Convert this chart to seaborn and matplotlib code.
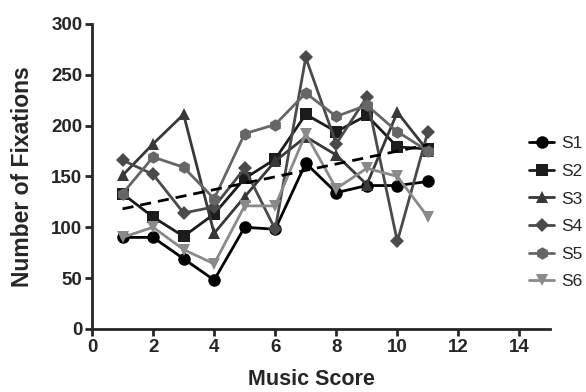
import numpy as np
import pandas as pd
import matplotlib
matplotlib.use("Agg")
import matplotlib.pyplot as plt
import seaborn as sns

scores = [1, 2, 3, 4, 5, 6, 7, 8, 9, 10, 11]
s1 = [90, 90, 69, 48, 100, 98, 163, 134, 141, 141, 145]
s2 = [133, 110, 91, 113, 148, 167, 211, 194, 210, 179, 177]
s3 = [151, 182, 211, 94, 130, 165, 189, 171, 142, 213, 175]
s4 = [166, 152, 114, 120, 158, 98, 267, 182, 228, 86, 194]
s5 = [133, 169, 159, 128, 192, 201, 232, 209, 220, 194, 175]
s6 = [90, 100, 78, 64, 121, 121, 192, 138, 158, 150, 110]
subjects = ["S1", "S2", "S3", "S4", "S5", "S6"]
series = [s1, s2, s3, s4, s5, s6]
colors = ["#000000", "#1c1c1c", "#383838", "#4a4a4a", "#666666", "#8a8a8a"]
markers = ["o", "s", "^", "D", "h", "v"]
msizes = [9, 9, 9, 7, 9, 9]

df = pd.DataFrame({
    "Music Score": np.tile(scores, len(subjects)),
    "Number of Fixations": np.concatenate(series),
    "Subject": np.repeat(subjects, len(scores)),
})

sns.set_style("ticks")
plt.rcParams["font.family"] = ["Liberation Sans", "DejaVu Sans"]

fig = plt.figure(figsize=(5.86, 3.92), dpi=100)
ax = fig.add_axes([0.157, 0.161, 0.7816, 0.778])

for subj, col, mk, ms in zip(subjects, colors, markers, msizes):
    sub = df[df["Subject"] == subj]
    sns.lineplot(data=sub, x="Music Score", y="Number of Fixations", ax=ax,
                 color=col, marker=mk, markersize=ms, markeredgewidth=0,
                 linewidth=2.0, label=subj, estimator=None, errorbar=None)

sns.regplot(data=df, x="Music Score", y="Number of Fixations", ax=ax,
            scatter=False, ci=None, truncate=True,
            line_kws=dict(color="black", linestyle=(0, (4, 2.5)), linewidth=2.0))

ax.set_xlim(0, 15)
ax.set_ylim(0, 300)
ax.set_xticks([0, 2, 4, 6, 8, 10, 12, 14])
ax.set_yticks([0, 50, 100, 150, 200, 250, 300])
for sp in ["top", "right"]:
    ax.spines[sp].set_visible(False)
for sp in ["left", "bottom"]:
    ax.spines[sp].set_linewidth(2.0)
ax.tick_params(axis="both", width=2.0, length=5, labelsize=13.5, pad=2)
for lab in ax.get_xticklabels() + ax.get_yticklabels():
    lab.set_fontweight("bold")
ax.set_xlabel("Music Score", fontsize=15.5, fontweight="bold")
ax.set_ylabel("Number of Fixations", fontsize=16.5, fontweight="bold")
ax.xaxis.set_label_coords((311 - 92) / 458, -(369 - 329) / 305)
ax.yaxis.set_label_coords(-(92 - 34) / 458, (329 - 177) / 305)

handles, labels = ax.get_legend_handles_labels()
leg = ax.legend(handles[:6], labels[:6], loc="upper left", bbox_to_anchor=(0.94, 0.655),
                frameon=False, fontsize=12.5, handlelength=1.4, labelspacing=0.72,
                handletextpad=0.45, borderaxespad=0)

fig.savefig("out.png", dpi=100)
